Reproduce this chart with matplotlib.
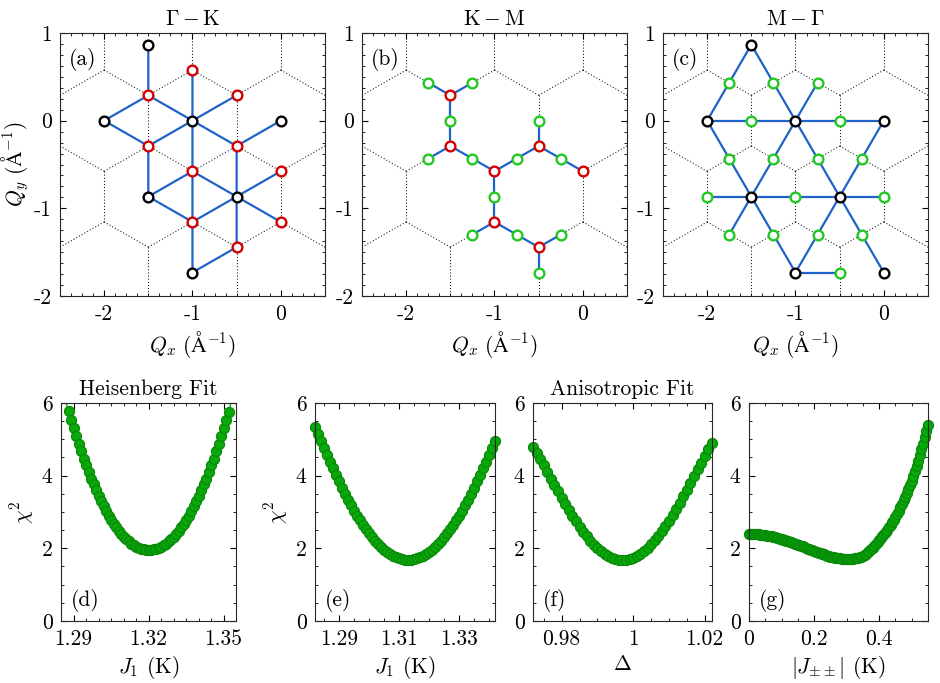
import numpy as np
import matplotlib
matplotlib.use('Agg')
from matplotlib import pyplot as plt
from matplotlib.ticker import MultipleLocator, FuncFormatter

FS = 15.5
plt.rcParams['font.family'] = 'serif'
plt.rcParams['font.serif'] = ['cmr10', 'DejaVu Serif']
plt.rcParams['mathtext.fontset'] = 'cm'
plt.rcParams['axes.unicode_minus'] = False
plt.rcParams['axes.formatter.use_mathtext'] = False
plt.rcParams['font.size'] = FS

# ---- top row: high symmetry points in (Qx, Qy), units 1/A ----
gamma_a = [(-1.5, 0.866), (-2, 0), (-1, 0), (0, 0), (-1.5, -0.866), (-0.5, -0.866), (-1, -1.732)]
k_a = [(-1, 0.577), (-1.5, 0.289), (-0.5, 0.289), (-1.5, -0.289), (-0.5, -0.289),
       (-1, -0.577), (0, -0.577), (-1, -1.155), (0, -1.155), (-0.5, -1.443)]
paths_a = [
    [(-1.5, 0.866), (-1.5, 0.289), (-2, 0), (-1.5, -0.289), (-1.5, -0.866), (-1, -1.155)],
    [(-1.5, 0.289), (-1, 0), (-1.5, -0.289)],
    [(-1, 0.577), (-1, -1.732), (-0.5, -1.443), (-0.5, -0.289), (0, 0)],
    [(-0.5, 0.289), (-1, 0), (-0.5, -0.289)],
    [(-1.5, -0.866), (-1, -0.577), (-0.5, -0.866), (0, -0.577)],
    [(-1, -1.155), (-0.5, -0.866), (0, -1.155)],
]

k_b = [(-1.5, 0.289), (-1.5, -0.289), (-1, -0.577), (-0.5, -0.289), (0, -0.577),
       (-1, -1.155), (-0.5, -1.443)]
m_b = [(-1.75, 0.433), (-1.25, 0.433), (-1.5, 0), (-1.75, -0.433), (-1.25, -0.433),
       (-0.75, -0.433), (-0.5, 0), (-0.25, -0.433), (-1, -0.866), (-1.25, -1.299),
       (-0.75, -1.299), (-0.25, -1.299), (-0.5, -1.732)]
paths_b = [
    [(-1.75, 0.433), (-1.5, 0.289), (-1.25, 0.433)],
    [(-1.5, 0.289), (-1.5, -0.289)],
    [(-1.75, -0.433), (-1.5, -0.289), (-1, -0.577), (-0.5, -0.289), (0, -0.577)],
    [(-0.5, 0), (-0.5, -0.289)],
    [(-1, -0.577), (-1, -1.155)],
    [(-1.25, -1.299), (-1, -1.155), (-0.5, -1.443), (-0.25, -1.299)],
    [(-0.5, -1.443), (-0.5, -1.732)],
]

gamma_c = [(-1.5, 0.866), (-2, 0), (-1, 0), (0, 0), (-1.5, -0.866), (-0.5, -0.866),
           (-1, -1.732), (0, -1.732)]
m_c = [(-1.75, 0.433), (-1.25, 0.433), (-0.75, 0.433), (-1.5, 0), (-0.5, 0),
       (-1.75, -0.433), (-1.25, -0.433), (-0.75, -0.433), (-0.25, -0.433),
       (-2, -0.866), (-1, -0.866), (0, -0.866), (-1.75, -1.299), (-1.25, -1.299),
       (-0.75, -1.299), (-0.25, -1.299), (-0.5, -1.732)]
paths_c = [
    [(-2, 0), (-1.5, 0.866), (-1, 0)],
    [(-2, 0), (0, 0)],
    [(-0.75, 0.433), (-1, 0)],
    [(-2, 0), (-1.5, -0.866), (-1, 0), (-0.5, -0.866), (0, 0)],
    [(-2, -0.866), (0, -0.866)],
    [(-1.75, -1.299), (-1.5, -0.866), (-1, -1.732), (-0.5, -0.866), (0, -1.732)],
    [(-1, -1.732), (-0.5, -1.732)],
]

# reciprocal lattice (Brillouin zone centres) spacing
b_len = 1.0

# ---- bottom row: chi^2 scans ----
J1_heis = [1.287, 1.288, 1.289, 1.290, 1.291, 1.292, 1.293, 1.294, 1.295, 1.296,
           1.297, 1.298, 1.299, 1.300, 1.301, 1.302, 1.303, 1.304, 1.305, 1.306,
           1.307, 1.308, 1.309, 1.310, 1.311, 1.312, 1.313, 1.314, 1.315, 1.316,
           1.317, 1.318, 1.319, 1.320, 1.321, 1.322, 1.323, 1.324, 1.325, 1.326,
           1.327, 1.328, 1.329, 1.330, 1.331, 1.332, 1.333, 1.334, 1.335, 1.336,
           1.337, 1.338, 1.339, 1.340, 1.341, 1.342, 1.343, 1.344, 1.345, 1.346,
           1.347, 1.348, 1.349, 1.350, 1.351, 1.352, 1.353]
chi_heis = [6.01, 5.77, 5.53, 5.31, 5.09, 4.87, 4.67, 4.47, 4.28, 4.10,
            3.92, 3.76, 3.60, 3.44, 3.30, 3.16, 3.03, 2.90, 2.79, 2.68,
            2.58, 2.49, 2.40, 2.32, 2.25, 2.19, 2.13, 2.08, 2.04, 2.01,
            1.98, 1.97, 1.95, 1.95, 1.95, 1.97, 1.98, 2.01, 2.04, 2.08,
            2.13, 2.19, 2.25, 2.32, 2.40, 2.49, 2.58, 2.68, 2.79, 2.90,
            3.03, 3.16, 3.30, 3.44, 3.60, 3.76, 3.92, 4.10, 4.28, 4.47,
            4.67, 4.87, 5.09, 5.31, 5.53, 5.75, 6.01]

J1_aniso = [1.282, 1.283, 1.284, 1.285, 1.286, 1.287, 1.288, 1.289, 1.290, 1.291,
            1.292, 1.293, 1.294, 1.295, 1.296, 1.297, 1.298, 1.299, 1.300, 1.301,
            1.302, 1.303, 1.304, 1.305, 1.306, 1.307, 1.308, 1.309, 1.310, 1.311,
            1.312, 1.313, 1.314, 1.315, 1.316, 1.317, 1.318, 1.319, 1.320, 1.321,
            1.322, 1.323, 1.324, 1.325, 1.326, 1.327, 1.328, 1.329, 1.330, 1.331,
            1.332, 1.333, 1.334, 1.335, 1.336, 1.337, 1.338, 1.339, 1.340, 1.341,
            1.342]
chi_J1 = [5.35, 5.15, 4.96, 4.76, 4.57, 4.38, 4.20, 4.02, 3.84, 3.67,
          3.50, 3.34, 3.19, 3.04, 2.90, 2.77, 2.64, 2.52, 2.41, 2.30,
          2.20, 2.11, 2.03, 1.96, 1.89, 1.84, 1.79, 1.75, 1.72, 1.70,
          1.68, 1.68, 1.68, 1.70, 1.72, 1.75, 1.79, 1.84, 1.89, 1.96,
          2.03, 2.11, 2.20, 2.30, 2.41, 2.52, 2.64, 2.77, 2.90, 3.04,
          3.19, 3.34, 3.50, 3.67, 3.84, 4.02, 4.20, 4.38, 4.57, 4.76,
          4.96]

delta = [0.972, 0.973, 0.974, 0.975, 0.976, 0.977, 0.978, 0.979, 0.980, 0.981,
         0.982, 0.983, 0.984, 0.985, 0.986, 0.987, 0.988, 0.989, 0.990, 0.991,
         0.992, 0.993, 0.994, 0.995, 0.996, 0.997, 0.998, 0.999, 1.000, 1.001,
         1.002, 1.003, 1.004, 1.005, 1.006, 1.007, 1.008, 1.009, 1.010, 1.011,
         1.012, 1.013, 1.014, 1.015, 1.016, 1.017, 1.018, 1.019, 1.020, 1.021,
         1.022]
chi_delta = [4.78, 4.62, 4.45, 4.28, 4.10, 3.92, 3.75, 3.57, 3.39, 3.22,
             3.06, 2.90, 2.74, 2.60, 2.46, 2.33, 2.21, 2.10, 2.01, 1.92,
             1.85, 1.79, 1.74, 1.71, 1.69, 1.68, 1.69, 1.71, 1.74, 1.79,
             1.85, 1.92, 2.01, 2.11, 2.22, 2.34, 2.47, 2.61, 2.76, 2.91,
             3.08, 3.25, 3.43, 3.61, 3.79, 3.98, 4.17, 4.35, 4.54, 4.72,
             4.89]

Jpm = [0.000, 0.005, 0.010, 0.015, 0.020, 0.025, 0.030, 0.035, 0.040, 0.045,
       0.050, 0.055, 0.060, 0.065, 0.070, 0.075, 0.080, 0.085, 0.090, 0.095,
       0.100, 0.105, 0.110, 0.115, 0.120, 0.125, 0.130, 0.135, 0.140, 0.145,
       0.150, 0.155, 0.160, 0.165, 0.170, 0.175, 0.180, 0.185, 0.190, 0.195,
       0.200, 0.205, 0.210, 0.215, 0.220, 0.225, 0.230, 0.235, 0.240, 0.245,
       0.250, 0.255, 0.260, 0.265, 0.270, 0.275, 0.280, 0.285, 0.290, 0.295,
       0.300, 0.305, 0.310, 0.315, 0.320, 0.325, 0.330, 0.335, 0.340, 0.345,
       0.350, 0.355, 0.360, 0.365, 0.370, 0.375, 0.380, 0.385, 0.390, 0.395,
       0.400, 0.405, 0.410, 0.415, 0.420, 0.425, 0.430, 0.435, 0.440, 0.445,
       0.450, 0.455, 0.460, 0.465, 0.470, 0.475, 0.480, 0.485, 0.490, 0.495,
       0.500, 0.505, 0.510, 0.515, 0.520, 0.525, 0.530, 0.535, 0.540, 0.545,
       0.550]
chi_Jpm = [2.40, 2.40, 2.40, 2.40, 2.39, 2.39, 2.39, 2.38, 2.38, 2.37,
           2.36, 2.35, 2.35, 2.34, 2.33, 2.32, 2.31, 2.29, 2.28, 2.27,
           2.26, 2.24, 2.23, 2.21, 2.20, 2.18, 2.17, 2.15, 2.13, 2.12,
           2.10, 2.08, 2.06, 2.05, 2.03, 2.01, 1.99, 1.98, 1.96, 1.94,
           1.92, 1.91, 1.89, 1.87, 1.86, 1.84, 1.83, 1.81, 1.80, 1.78,
           1.77, 1.76, 1.75, 1.74, 1.73, 1.72, 1.72, 1.71, 1.71, 1.70,
           1.70, 1.70, 1.70, 1.71, 1.71, 1.72, 1.73, 1.74, 1.75, 1.77,
           1.79, 1.82, 1.85, 1.89, 1.93, 1.97, 2.02, 2.07, 2.13, 2.18,
           2.23, 2.28, 2.34, 2.39, 2.45, 2.51, 2.58, 2.64, 2.72, 2.79,
           2.87, 2.95, 3.04, 3.13, 3.22, 3.32, 3.41, 3.52, 3.63, 3.74,
           3.86, 3.99, 4.12, 4.26, 4.41, 4.56, 4.72, 4.88, 5.05, 5.22,
           5.40]

blue = '#1f62c8'
red = '#d40000'
lgreen = '#22c822'
dgreen = '#0aa80a'
dgreen_edge = '#078a07'


def fmt(v, pos):
    return '%g' % round(v, 6)


def style_axes(ax):
    ax.tick_params(which='both', direction='in', top=True, right=True, labelsize=FS, pad=6)
    ax.tick_params(which='major', length=4, width=0.8)
    ax.tick_params(which='minor', length=2, width=0.6)
    for s in ax.spines.values():
        s.set_linewidth(0.8)
        s.set_color('0.15')
    ax.xaxis.set_major_formatter(FuncFormatter(fmt))
    ax.yaxis.set_major_formatter(FuncFormatter(fmt))


# unique edges of the hexagonal Brillouin zones
R = b_len / np.sqrt(3)
edges = set()
for n in range(-5, 4):
    for m in range(-4, 4):
        cx = b_len * (n + 0.5 * m)
        cy = b_len * m * np.sqrt(3) / 2
        if cx < -3.3 or cx > 1.3 or cy < -2.9 or cy > 1.9:
            continue
        ang = np.radians(30 + 60 * np.arange(7))
        vx = cx + R * np.cos(ang)
        vy = cy + R * np.sin(ang)
        for i in range(6):
            p = (round(vx[i], 3), round(vy[i], 3))
            q = (round(vx[i + 1], 3), round(vy[i + 1], 3))
            edges.add(tuple(sorted([p, q])))


def draw_bz(ax, paths, groups, label):
    for p, q in edges:
        ax.plot([p[0], q[0]], [p[1], q[1]], color='0.05', lw=0.75, ls=(0, (1, 2)), zorder=1)
    for path in paths:
        xs, ys = zip(*path)
        ax.plot(xs, ys, color=blue, lw=1.6, zorder=2)
    for pts, c in groups:
        xs, ys = zip(*pts)
        ax.plot(xs, ys, 'o', ms=7, mfc='white', mec=c, mew=1.7, ls='none', zorder=3)
    ax.set_xlim(-2.5, 0.5)
    ax.set_ylim(-2, 1)
    ax.set_xticks([-2, -1, 0])
    ax.set_yticks([-2, -1, 0, 1])
    ax.xaxis.set_minor_locator(MultipleLocator(0.125))
    ax.yaxis.set_minor_locator(MultipleLocator(0.125))
    style_axes(ax)
    ax.set_xlabel(r'$Q_x\ (\mathrm{\AA}^{-1})$', fontsize=FS)
    ax.text(0.035, 0.9, label, transform=ax.transAxes, ha='left', va='center', fontsize=FS)


fig = plt.figure(figsize=(9.4, 6.83), dpi=100)

ax_a = fig.add_axes([0.0638, 0.5666, 0.2819, 0.3851])
draw_bz(ax_a, paths_a, [(gamma_a, 'k'), (k_a, red)], '(a)')
ax_a.set_ylabel(r'$Q_y\ (\mathrm{\AA}^{-1})$', fontsize=FS, labelpad=2)
ax_a.set_title(r'$\Gamma - \mathrm{K}$', fontsize=FS)

ax_b = fig.add_axes([0.3851, 0.5666, 0.2819, 0.3851])
draw_bz(ax_b, paths_b, [(k_b, red), (m_b, lgreen)], '(b)')
ax_b.set_title(r'$\mathrm{K} - \mathrm{M}$', fontsize=FS)

ax_c = fig.add_axes([0.7053, 0.5666, 0.2819, 0.3851])
draw_bz(ax_c, paths_c, [(gamma_c, 'k'), (m_c, lgreen)], '(c)')
ax_c.set_title(r'$\mathrm{M} - \Gamma$', fontsize=FS)

bottom = [
    ([0.0649, 0.0908, 0.1862, 0.3192], J1_heis, chi_heis, (1.285, 1.355), [1.29, 1.32, 1.35], 0.005,
     r'$J_1$ (K)', '(d)'),
    ([0.3351, 0.0908, 0.1915, 0.3192], J1_aniso, chi_J1, (1.282, 1.342), [1.29, 1.31, 1.33], 0.005,
     r'$J_1$ (K)', '(e)'),
    ([0.5670, 0.0908, 0.1904, 0.3192], delta, chi_delta, (0.972, 1.022), [0.98, 1.0, 1.02], 0.005,
     r'$\Delta$', '(f)'),
    ([0.7968, 0.0908, 0.1904, 0.3192], Jpm, chi_Jpm, (0.0, 0.55), [0, 0.2, 0.4], 0.05,
     r'$|J_{\pm\pm}|$ (K)', '(g)'),
]

axes_bottom = []
for rect, xv, yv, xl, xt, xminor, xlab, lab in bottom:
    ax = fig.add_axes(rect)
    if lab == '(d)':
        ax.plot(xv, yv, '-o', color=dgreen, lw=1.0, ms=7.2, mfc=dgreen, mec=dgreen_edge,
                mew=0.9, markevery=slice(1, len(xv) - 1), clip_on=True)
    else:
        ax.plot(xv, yv, 'o', ms=7.2, mfc=dgreen, mec=dgreen_edge, mew=0.9, ls='none', clip_on=False)
    ax.set_xlim(*xl)
    ax.set_ylim(0, 6)
    ax.set_xticks(xt)
    ax.set_yticks([0, 2, 4, 6])
    ax.xaxis.set_minor_locator(MultipleLocator(xminor))
    ax.yaxis.set_minor_locator(MultipleLocator(0.5))
    style_axes(ax)
    ax.set_xlabel(xlab, fontsize=FS)
    ax.text(0.055, 0.095, lab, transform=ax.transAxes, ha='left', va='center', fontsize=FS)
    axes_bottom.append(ax)

axes_bottom[0].set_ylabel(r'$\chi^2$', fontsize=FS)
axes_bottom[1].set_ylabel(r'$\chi^2$', fontsize=FS)
axes_bottom[0].set_title('Heisenberg Fit', fontsize=FS)
axes_bottom[2].set_title('Anisotropic Fit', fontsize=FS)

fig.savefig('out.png', dpi=100, facecolor='white')
